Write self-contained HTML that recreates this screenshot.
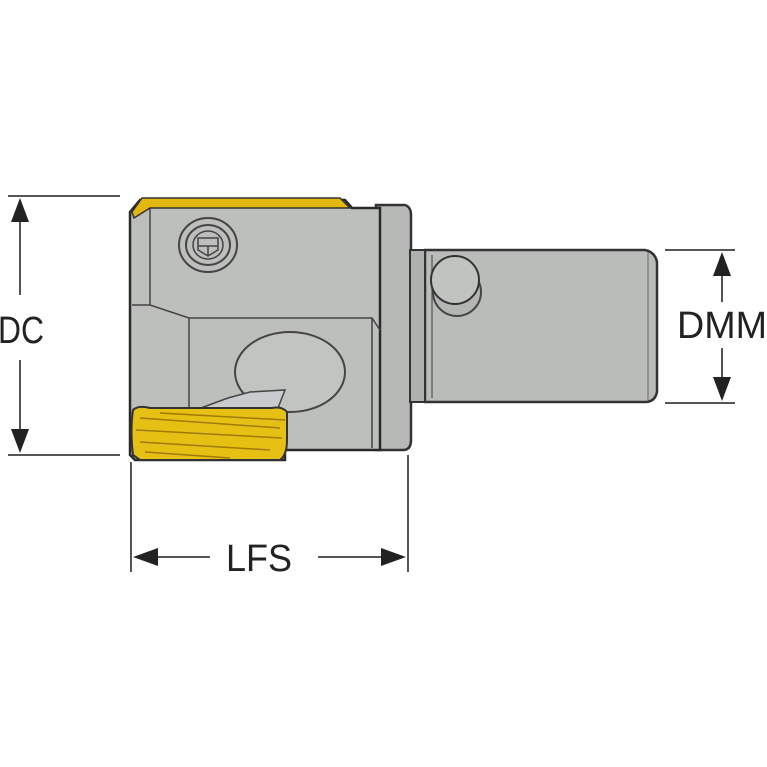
<!DOCTYPE html>
<html><head><style>html,body{margin:0;padding:0;background:#fff}svg{display:block}</style></head>
<body>
<svg width="767" height="767" viewBox="0 0 767 767" xmlns="http://www.w3.org/2000/svg">
<rect width="767" height="767" fill="#fff"/>
<!-- shank -->
<path d="M425 250 H645 Q655 252 657 262 V392 Q655 402 645 402 H425 Z" fill="#b9bcb8" stroke="#333" stroke-width="2.5"/>
<line x1="648" y1="252" x2="648" y2="400" stroke="#666" stroke-width="1"/>
<line x1="432" y1="255" x2="432" y2="398" stroke="#666" stroke-width="1.5"/>
<circle cx="457" cy="292" r="24" fill="#b3b6b2" stroke="#444" stroke-width="2"/>
<circle cx="455" cy="280" r="24" fill="#c0c3bf" stroke="#333" stroke-width="2"/>
<!-- collar -->
<path d="M376 205 H405 Q411 207 411 215 V440 Q411 450 403 450 H376 Z" fill="#b6b9b5" stroke="#333" stroke-width="2.5"/>
<rect x="410" y="250" width="15" height="152" fill="#aeb1ad" stroke="#333" stroke-width="2"/>
<!-- body -->
<path d="M130 212 L140 200 H345 L352 208 H380 V450 H285 V460 H135 L130 455 Z" fill="#bdbfbc" stroke="#2a2a2a" stroke-width="2.5"/>
<line x1="150" y1="208" x2="150" y2="305" stroke="#444" stroke-width="1.5"/>
<path d="M132 305 H150 L189 318 H372 L380 330" fill="none" stroke="#444" stroke-width="1.5"/>
<line x1="189" y1="318" x2="189" y2="410" stroke="#444" stroke-width="1.5"/>
<line x1="372" y1="318" x2="372" y2="448" stroke="#444" stroke-width="1.5"/>
<!-- gold top strip -->
<path d="M132 212 L142 198 H340 L350 208 H150 L134 218 Z" fill="#e2b810" stroke="#333" stroke-width="1.5"/>
<!-- screw -->
<ellipse cx="208" cy="245" rx="29" ry="27" fill="none" stroke="#444" stroke-width="2"/>
<ellipse cx="208" cy="245" rx="22" ry="20" fill="none" stroke="#444" stroke-width="2"/>
<ellipse cx="208" cy="245" rx="15" ry="14" fill="none" stroke="#444" stroke-width="1.5"/>
<path d="M198 238 H218 L218 250 L208 256 L198 250 Z M208 246 V256 M198 246 H218" fill="none" stroke="#444" stroke-width="1.5"/>
<!-- ellipse pocket -->
<ellipse cx="290" cy="372" rx="55" ry="40" fill="#c2c4c1" stroke="#444" stroke-width="2"/>
<path d="M190 412 L228 398 L250 392 L285 390 L278 408 L230 412 Z" fill="#c9cbcf" stroke="#444" stroke-width="1.5"/>
<!-- insert -->
<path d="M133 410 Q130 430 133 455 L140 460 H280 Q287 455 287 440 V412 Q282 406 272 408 H150 Q138 405 133 410 Z" fill="#e6c012" stroke="#333" stroke-width="2"/>
<g stroke="#a07a05" stroke-width="1.5" fill="none">
<path d="M140 418 L280 428"/><path d="M136 430 L282 438"/><path d="M140 442 L270 450"/><path d="M160 413 L285 420"/><path d="M145 452 L230 458"/>
</g>
<!-- dims -->
<g stroke="#555" stroke-width="2">
<line x1="8" y1="196" x2="120" y2="196"/><line x1="8" y1="455" x2="120" y2="455"/>
<line x1="20" y1="210" x2="20" y2="295"/><line x1="20" y1="360" x2="20" y2="440"/>
<line x1="665" y1="250" x2="735" y2="250"/><line x1="665" y1="403" x2="735" y2="403"/>
<line x1="722" y1="265" x2="722" y2="302"/><line x1="722" y1="348" x2="722" y2="390"/>
<line x1="131" y1="462" x2="131" y2="572"/><line x1="408" y1="455" x2="408" y2="572"/>
<line x1="145" y1="557" x2="210" y2="557"/><line x1="318" y1="557" x2="395" y2="557"/>
</g>
<g fill="#222">
<polygon points="20,198 11,222 29,222"/><polygon points="20,453 11,429 29,429"/>
<polygon points="722,252 713,276 731,276"/><polygon points="722,401 713,377 731,377"/>
<polygon points="133,557 158,548 158,566"/><polygon points="406,557 381,548 381,566"/>
</g>
<g font-family="Liberation Sans, sans-serif" font-size="38" fill="#222">
<text x="-2" y="343" textLength="46" lengthAdjust="spacingAndGlyphs">DC</text>
<text x="677" y="338" textLength="90" lengthAdjust="spacingAndGlyphs">DMM</text>
<text x="226" y="571" textLength="66" lengthAdjust="spacingAndGlyphs">LFS</text>
</g>
</svg>
</body></html>
